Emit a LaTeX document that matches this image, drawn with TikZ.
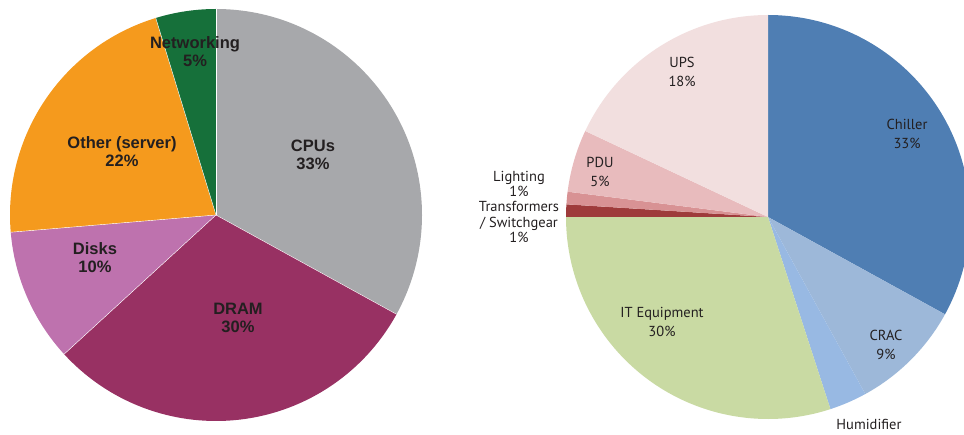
\documentclass[tikz,border=0pt]{standalone}
\usepackage{fontspec}
\setmainfont{Liberation Sans}
\newfontfamily\lightsans{PT Sans}
\definecolor{txt}{HTML}{231F20}
\definecolor{cpu}{HTML}{A7A8AB}
\definecolor{dram}{HTML}{983163}
\definecolor{disk}{HTML}{BE72AE}
\definecolor{other}{HTML}{F59A1D}
\definecolor{net}{HTML}{16703A}
\definecolor{chill}{HTML}{4F7EB3}
\definecolor{crac}{HTML}{9DB8D9}
\definecolor{humid}{HTML}{98B9E3}
\definecolor{itq}{HTML}{C9DAA3}
\definecolor{trans}{HTML}{9E3B3B}
\definecolor{light}{HTML}{D89294}
\definecolor{pdu}{HTML}{E8BBBD}
\definecolor{ups}{HTML}{F2DFDF}
% slice: centre, radius, start angle, end angle, fill colour
\newcommand{\pieslice}[5]{%
  \fill[#5] (#1) -- ++(#3:#2) arc[start angle=#3, end angle=#4, radius=#2] -- cycle;}
\tikzset{
  boldlab/.style={text=txt, align=center, font=\fontsize{16.5}{18}\selectfont\bfseries, inner sep=0pt},
  thinlab/.style={text=txt, align=center, font=\lightsans\fontsize{14.5}{19}\selectfont, inner sep=0pt},
}
\begin{document}
\begin{tikzpicture}[x=1pt,y=1pt]
\useasboundingbox (0,0) rectangle (964,434);
\clip (0,0) rectangle (964,434);
% server component pie
\coordinate (lc) at (216,219);
\pieslice{lc}{206}{90}{-28.8}{cpu}
\pieslice{lc}{206}{-28.8}{-137.5}{dram}
\pieslice{lc}{206}{-137.5}{-175.2}{disk}
\pieslice{lc}{206}{-175.2}{-253}{other}
\pieslice{lc}{206}{-253}{-270}{net}
\foreach \a in {90,-28.8,-137.5,-175.2,-253}
  \draw[white, line width=0.4pt] (lc) -- ++(\a:206);
\node[boldlab] (netlab) at (195,382) {Networking\\5\%};
\node[boldlab] (cpulab) at (313,279) {CPUs\\33\%};
\node[boldlab] (dramlab) at (238,116) {DRAM\\30\%};
\node[boldlab] (disklab) at (95,176) {Disks\\10\%};
\node[boldlab] (otherlab) at (122,282) {Other (server)\\22\%};
% facility power pie
\coordinate (rc) at (768,217);
\pieslice{rc}{202}{90}{-28.8}{chill}
\pieslice{rc}{202}{-28.8}{-61.2}{crac}
\pieslice{rc}{202}{-61.2}{-72}{humid}
\pieslice{rc}{202}{-72}{-180}{itq}
\pieslice{rc}{202}{-180}{-183.6}{trans}
\pieslice{rc}{202}{-183.6}{-187.2}{light}
\pieslice{rc}{202}{-187.2}{-205.2}{pdu}
\pieslice{rc}{202}{-205.2}{-270}{ups}
\node[thinlab] (upslab) at (682,362) {UPS\\18\%};
\node[thinlab] (pdulab) at (600,262) {PDU\\5\%};
\node[thinlab, font=\lightsans\fontsize{14.5}{15}\selectfont] (lightlab) at (519,250) {Lighting\\1\%};
\node[thinlab, font=\lightsans\fontsize{14.5}{15.5}\selectfont] (translab) at (519,212) {Transformers\\/ Switchgear\\1\%};
\node[thinlab] (chilllab) at (907,300) {Chiller\\33\%};
\node[thinlab] (craclab) at (886,89) {CRAC\\9\%};
\node[thinlab] (itlab) at (662,112) {IT Equipment\\30\%};
\node[thinlab] (humidlab) at (869,10) {Humidifier};
\end{tikzpicture}
\end{document}
